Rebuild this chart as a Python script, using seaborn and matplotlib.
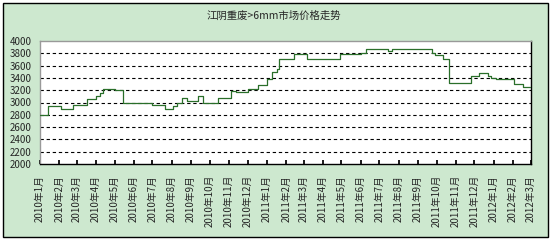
import matplotlib
matplotlib.use("Agg")
import matplotlib.pyplot as plt
from matplotlib.patches import Rectangle
import seaborn as sns
import pandas as pd

title = "江阴重废>6mm市场价格走势"
dates = ["2010-01-01", "2010-01-14", "2010-02-04", "2010-02-23", "2010-03-17",
         "2010-04-01", "2010-04-07", "2010-04-12", "2010-05-01", "2010-05-14",
         "2010-06-30", "2010-07-21", "2010-08-03", "2010-08-09", "2010-08-17",
         "2010-08-25", "2010-09-13", "2010-09-20", "2010-10-15", "2010-11-05",
         "2010-11-13", "2010-12-01", "2010-12-17", "2011-01-01", "2011-01-10",
         "2011-01-17", "2011-01-20", "2011-02-13", "2011-03-07", "2011-04-28",
         "2011-06-02", "2011-06-10", "2011-07-15", "2011-07-22", "2011-09-23",
         "2011-09-29", "2011-10-12", "2011-10-21", "2011-11-26", "2011-12-09",
         "2011-12-23", "2011-12-28", "2012-01-05", "2012-02-03", "2012-02-17",
         "2012-02-29"]
prices = [2800, 2950, 2890, 2960, 3050,
          3100, 3160, 3220, 3200, 3000,
          2960, 2890, 2950, 3000, 3070,
          3020, 3100, 3000, 3070, 3190,
          3165, 3215, 3285, 3380, 3500,
          3550, 3700, 3790, 3700, 3785,
          3810, 3865, 3835, 3865, 3800,
          3780, 3700, 3310, 3430, 3485,
          3430, 3400, 3380, 3300, 3250,
          3250]
tick_months = pd.date_range("2010-01-01", "2012-03-01", freq="MS")
tick_labels = [f"{d.year}年{d.month}月" for d in tick_months]
y_ticks = list(range(2000, 4001, 200))

df = pd.DataFrame({"date": pd.to_datetime(dates), "price": prices})

sns.set_theme(style="white")
plt.rcParams['font.family'] = ['Noto Sans CJK SC', 'DejaVu Sans']

W, H = 552, 242
fig = plt.figure(figsize=(W / 100, H / 100), dpi=100, facecolor="white")
fig.patches.append(Rectangle((3 / W, 5 / H), 545 / W, 234 / H, transform=fig.transFigure,
                             facecolor="#CDE8CF", edgecolor="black", linewidth=1.0, zorder=-10))

ax = fig.add_axes([40 / W, 1 - 164 / H, 491 / W, 123 / H], zorder=5)
ax.set_facecolor("white")
sns.lineplot(data=df, x="date", y="price", ax=ax, color="#2A6F2A", linewidth=0.9,
             drawstyle="steps-post", estimator=None, zorder=3)

ax.set_ylim(2000, 4000)
ax.set_xlim(pd.Timestamp("2010-01-01"), pd.Timestamp("2012-03-01"))
ax.set_yticks(y_ticks)
ax.set_yticklabels([str(v) for v in y_ticks], fontsize=7)
ax.set_xticks(tick_months)
ax.set_xticklabels(tick_labels, rotation=90, fontsize=7, ha="center", va="top")
ax.tick_params(axis="x", direction="in", length=3, pad=8, color="black", bottom=True)
ax.tick_params(axis="y", length=0, pad=6)
for v in y_ticks[1:-1]:
    ax.axhline(v, color="black", linestyle=(0, (3, 2.5)), linewidth=0.8, zorder=1)
ax.set_xlabel("")
ax.set_ylabel("")
for s in ["left", "top"]:
    ax.spines[s].set_color("#999999")
    ax.spines[s].set_linewidth(1.0)
for s in ["bottom", "right"]:
    ax.spines[s].set_color("black")
    ax.spines[s].set_linewidth(1.0)

fig.text(274 / W, 1 - 16 / H, title, ha="center", va="center", fontsize=7.5)

fig.savefig("out.png", dpi=100, facecolor="white")
